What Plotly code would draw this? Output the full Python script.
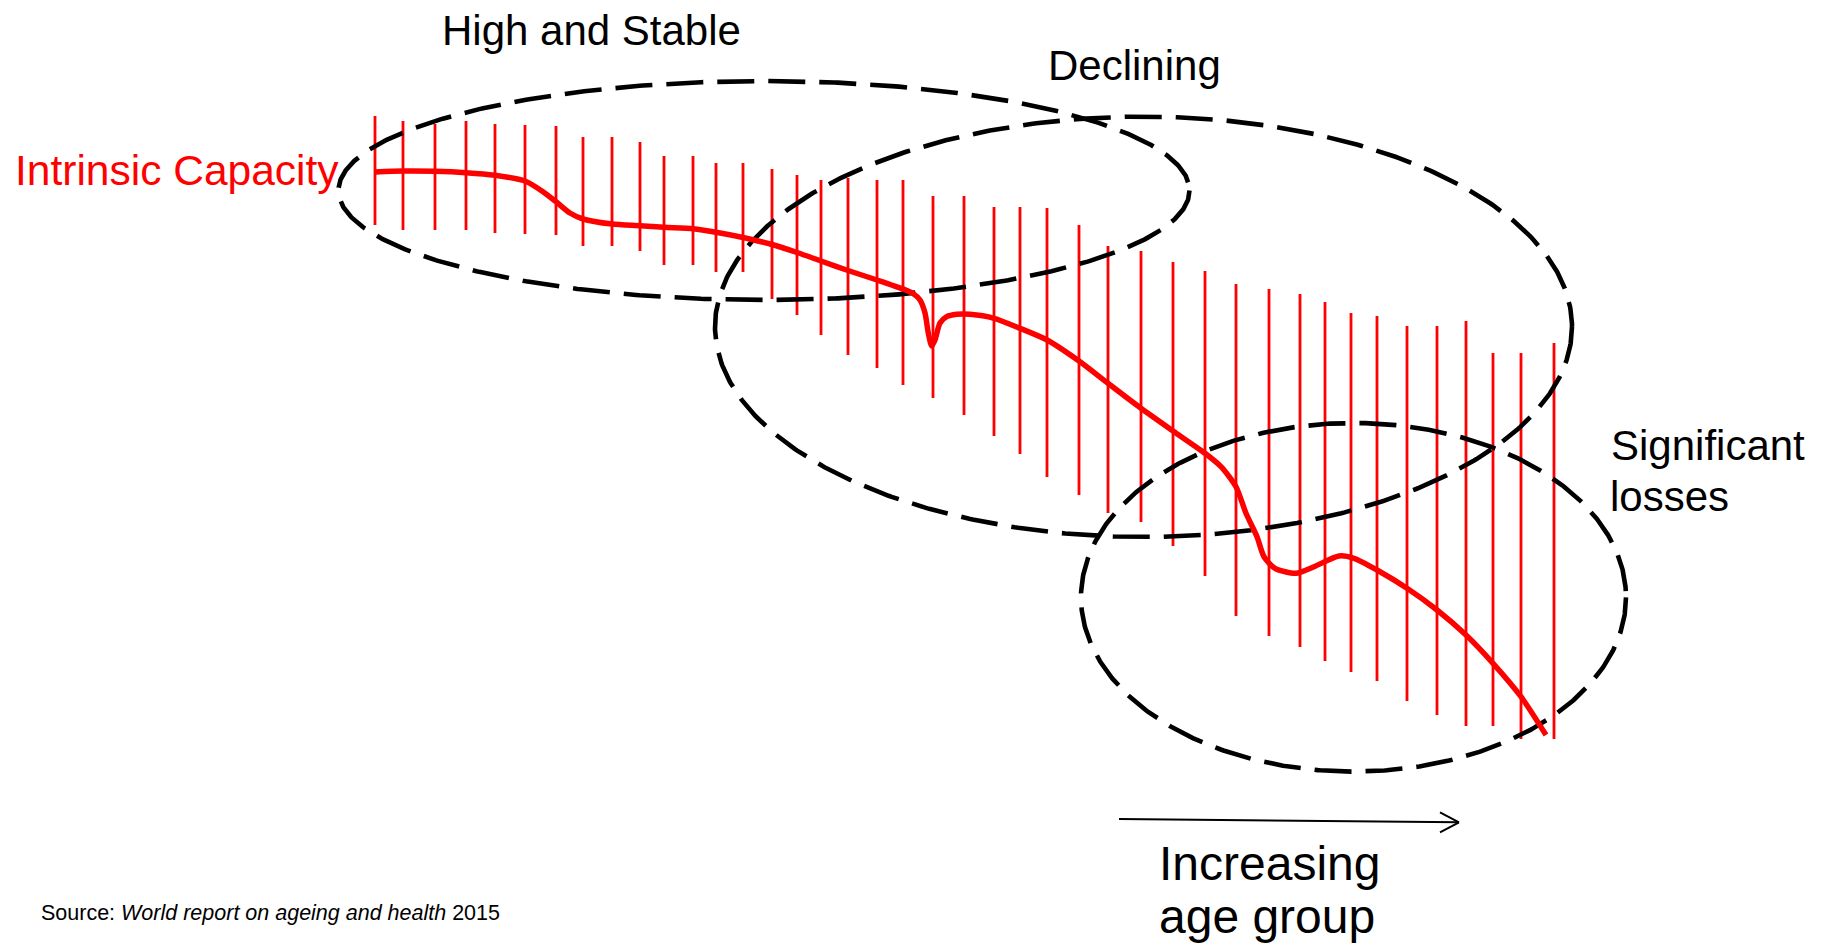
import numpy as np
import plotly.graph_objects as go

W, H = 1823, 947
FONT = "Liberation Sans, Arial, Helvetica, sans-serif"
RED = "#ff0000"

# Age-group bars: horizontal position, top and bottom of each range bar
bar_x = [375, 403, 435, 466, 495, 525, 556, 583, 612, 640, 664, 693, 716, 743,
         772, 797, 821, 848, 877, 903, 933, 964, 994, 1020, 1047, 1079, 1108,
         1141, 1173, 1205, 1236, 1269, 1300, 1325, 1351, 1377, 1407, 1437, 1466,
         1493, 1521, 1554]
bar_top = [116, 121, 124, 121, 124, 125, 126, 137, 137, 142, 156, 156, 163, 163,
           169, 175, 180, 178, 180, 180, 196, 196, 207, 207, 208, 225, 246,
           251, 262, 271, 284, 289, 294, 302, 313, 316, 326, 326, 321,
           353, 353, 343]
bar_bottom = [225, 230, 230, 230, 233, 234, 235, 246, 246, 251, 265, 265, 272, 272,
              299, 315, 335, 355, 368, 385, 398, 415, 436, 454, 477, 495, 513,
              522, 546, 576, 616, 636, 647, 661, 672, 681, 701, 715, 726,
              726, 739, 739]

# Intrinsic capacity trajectory
cap_x = [375, 403, 435, 466, 495, 525, 543, 556, 570, 583, 612, 640, 664, 693,
         716, 743, 772, 797, 821, 848, 877, 903, 913, 920, 925, 928.3, 931.7,
         935, 940, 946.7, 956.7, 970, 994, 1020, 1047, 1079, 1108, 1141, 1173,
         1205, 1221, 1236, 1246, 1257, 1264, 1275, 1296, 1314, 1339, 1354, 1377,
         1407, 1437, 1466, 1493, 1521, 1546]
cap_y = [172, 171, 171.3, 172.7, 175.3, 181, 191.7, 201.7, 213, 219, 224, 225.7,
         227.3, 228.7, 232.2, 237.5, 244.5, 252.5, 261, 270.5, 280, 289, 293.5,
         300, 313, 333, 346, 340, 323, 316.7, 314.3, 314.3, 318.3, 328.3, 340,
         361, 383.3, 408.3, 431, 453.3, 466.7, 486.7, 513.3, 536.7, 556.7, 568.3,
         573.3, 566.7, 556, 558.3, 570, 588.3, 610, 635, 663.3, 696.7, 735]

# Stage groupings: centre and radii of each dashed ellipse
stage_names = ["High and Stable", "Declining", "Significant losses"]
stage_cx = [764, 1143.5, 1353.5]
stage_cy = [190.5, 326.8, 597.3]
stage_rx = [425.5, 428.5, 272.5]
stage_ry = [109.5, 210.2, 174.3]

# Age direction arrow (tail -> tip) and its head
arrow_tail = (1119, 819)
arrow_tip = (1459, 822.3)
arrow_barbs = [(1440, 812.3), (1440, 832.3)]

fig = go.Figure()

# range bars
vx, vy = [], []
for x, t, b in zip(bar_x, bar_top, bar_bottom):
    vx += [x, x, None]
    vy += [t, b, None]
fig.add_trace(go.Scatter(x=vx, y=vy, mode="lines",
                         line=dict(color=RED, width=2.8),
                         hoverinfo="skip"))

# dashed stage ellipses
theta = np.linspace(0, 2 * np.pi, 721)
for cx, cy, rx, ry, name in zip(stage_cx, stage_cy, stage_rx, stage_ry, stage_names):
    fig.add_trace(go.Scatter(x=cx + rx * np.cos(theta), y=cy + ry * np.sin(theta),
                             mode="lines", name=name,
                             line=dict(color="black", width=4.6, dash="37px,14px"),
                             hoverinfo="skip"))

# capacity curve
fig.add_trace(go.Scatter(x=cap_x, y=cap_y, mode="lines",
                         line=dict(color=RED, width=5.5, shape="spline", smoothing=0.7),
                         name="Intrinsic Capacity", hoverinfo="skip"))

# arrow
shapes = [dict(type="line", xref="x", yref="y",
               x0=arrow_tail[0], y0=arrow_tail[1], x1=arrow_tip[0], y1=arrow_tip[1],
               line=dict(color="black", width=2))]
for bx, by in arrow_barbs:
    shapes.append(dict(type="line", xref="x", yref="y",
                       x0=bx, y0=by, x1=arrow_tip[0], y1=arrow_tip[1],
                       line=dict(color="black", width=2)))

def label(text, x, y, size, color="black"):
    return dict(text=text, x=x, y=y, xref="x", yref="y", showarrow=False,
                xanchor="center", yanchor="middle",
                font=dict(family=FONT, size=size, color=color))

annotations = [
    label("High and Stable", 591.7, 30, 42),
    label("Intrinsic Capacity", 176.5, 170.3, 42.5, RED),
    label("Declining", 1134.3, 65, 42),
    label("Significant", 1707.5, 445, 42),
    label("losses", 1669, 496, 42),
    label("Increasing", 1269.7, 863, 48),
    label("age group", 1266.5, 916.5, 48),
    label("Source: <i>World report on ageing and health</i> 2015", 270, 912.5, 21.5),
]

fig.update_layout(
    width=W, height=H,
    margin=dict(l=0, r=0, t=0, b=0),
    paper_bgcolor="white", plot_bgcolor="white",
    showlegend=False,
    xaxis=dict(range=[0, W], visible=False, fixedrange=True),
    yaxis=dict(range=[H, 0], visible=False, fixedrange=True),
    shapes=shapes,
    annotations=annotations,
)

fig.write_html("out.html", config={"displayModeBar": False})
